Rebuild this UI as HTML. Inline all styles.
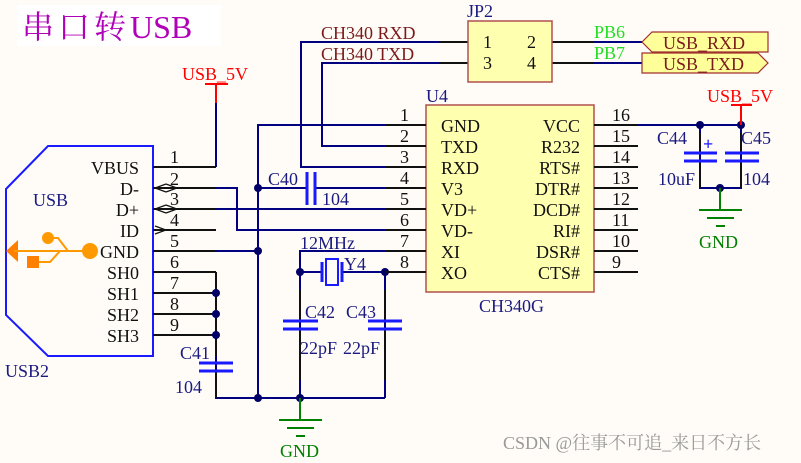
<!DOCTYPE html>
<html><head><meta charset="utf-8"><style>
html,body{margin:0;padding:0;background:#fffcf7;}
svg{display:block;}
text{font-family:"Liberation Serif","Noto Serif CJK SC",serif;}
</style></head><body>
<svg width="801" height="463" viewBox="0 0 801 463" xmlns="http://www.w3.org/2000/svg">
<rect width="801" height="463" fill="#fffcf7"/>
<rect x="17" y="5" width="204" height="41" fill="#ffffff"/>
<text x="22" y="38" font-size="32" fill="#b000b8" font-family="Liberation Serif,Noto Serif CJK SC,serif" letter-spacing="4">串口转<tspan letter-spacing="0">USB</tspan></text>

<polygon points="6,189 48,146 153,146 153,356 48,356 6,315" fill="none" stroke="#1a1aff" stroke-width="2"/>
<text x="33" y="206" font-size="18" fill="#1a1a80">USB</text>
<text x="5" y="377" font-size="18" fill="#1a1a80">USB2</text>
<g fill="#ff9900" stroke="#ff9900">
<polygon points="6,251 18,240 18,262" stroke="none" fill="#ff8000"/>
<line x1="14" y1="251" x2="90" y2="251" stroke-width="2"/>
<circle cx="90" cy="251" r="8" stroke="none"/>
<circle cx="48" cy="238" r="6" stroke="none"/>
<polyline points="48,238 58,238 68,251" fill="none" stroke-width="2"/>
<polyline points="38,262 50,262 60,251" fill="none" stroke-width="2"/>
<rect x="27" y="256" width="12" height="12" stroke="none" fill="#ff8000"/>
</g>
<g font-size="18" fill="#111" text-anchor="end">
<text x="139" y="174">VBUS</text><text x="139" y="195">D-</text><text x="139" y="216">D+</text>
<text x="139" y="237">ID</text><text x="139" y="258">GND</text><text x="139" y="279">SH0</text>
<text x="139" y="300">SH1</text><text x="139" y="321">SH2</text><text x="139" y="342">SH3</text>
</g>
<g stroke="#111" stroke-width="2">
<line x1="153" y1="167" x2="216" y2="167"/><line x1="153" y1="188" x2="216" y2="188"/>
<line x1="153" y1="209" x2="216" y2="209"/><line x1="153" y1="230" x2="216" y2="230"/>
<line x1="153" y1="251" x2="216" y2="251"/><line x1="153" y1="272" x2="216" y2="272"/>
<line x1="153" y1="293" x2="216" y2="293"/><line x1="153" y1="314" x2="216" y2="314"/>
<line x1="153" y1="335" x2="216" y2="335"/>
</g>
<g fill="none" stroke="#111" stroke-width="1.2">
<polyline points="166,184 155,188 166,192"/><polyline points="166,184 177,188 166,192"/>
<polyline points="166,205 155,209 166,213"/><polyline points="166,205 177,209 166,213"/>
<polyline points="155,226 166,230 155,234"/>
</g>
<g font-size="18" fill="#111">
<text x="170" y="163">1</text><text x="170" y="185">2</text><text x="170" y="205">3</text>
<text x="170" y="226">4</text><text x="170" y="247">5</text><text x="170" y="268">6</text>
<text x="170" y="289">7</text><text x="170" y="310">8</text><text x="170" y="331">9</text>
</g>

<g stroke="#000080" stroke-width="2" fill="none">
<polyline points="216,167 216,103"/>
<polyline points="216,188 237,188 237,230 385,230"/>
<line x1="216" y1="209" x2="385" y2="209"/>
<line x1="216" y1="251" x2="258" y2="251"/>
<polyline points="385,125 258,125 258,398"/>
<line x1="258" y1="188" x2="307" y2="188"/>
<line x1="315" y1="188" x2="385" y2="188"/>
<polyline points="385,146 322,146 322,63 470,63"/>
<polyline points="385,167 301,167 301,42 470,42"/>
<polyline points="385,251 300,251 300,398"/>
<line x1="300" y1="272" x2="322" y2="272"/>
<line x1="342" y1="272" x2="385" y2="272"/>
<line x1="385" y1="272" x2="385" y2="398"/>
<polyline points="216,272 216,398 385,398"/>
<line x1="594" y1="42" x2="642" y2="42"/><line x1="594" y1="63" x2="642" y2="63"/>
<line x1="638" y1="125" x2="741" y2="125"/>
<polyline points="700,125 700,188 741,188 741,125"/>
</g>
<g stroke="#111" stroke-width="2">
<line x1="216" y1="272" x2="216" y2="356"/><line x1="216" y1="371" x2="216" y2="398"/>
<line x1="300" y1="290" x2="300" y2="321"/><line x1="300" y1="329" x2="300" y2="380"/>
<line x1="385" y1="290" x2="385" y2="321"/><line x1="385" y1="329" x2="385" y2="380"/>
<line x1="700" y1="133" x2="700" y2="153"/><line x1="700" y1="161" x2="700" y2="188"/>
<line x1="741" y1="133" x2="741" y2="153"/><line x1="741" y1="161" x2="741" y2="188"/>
<line x1="552" y1="42" x2="594" y2="42"/><line x1="552" y1="63" x2="594" y2="63"/>
<line x1="440" y1="42" x2="470" y2="42"/><line x1="440" y1="63" x2="470" y2="63"/>
</g>
<g stroke="#1a1aff" stroke-width="3">
<line x1="307" y1="172" x2="307" y2="205"/><line x1="315" y1="172" x2="315" y2="205"/>
<line x1="199" y1="363" x2="233" y2="363"/><line x1="199" y1="371" x2="233" y2="371"/>
<line x1="283" y1="321" x2="318" y2="321"/><line x1="283" y1="329" x2="318" y2="329"/>
<line x1="368" y1="321" x2="402" y2="321"/><line x1="368" y1="329" x2="402" y2="329"/>
<line x1="684" y1="153" x2="717" y2="153"/><line x1="684" y1="161" x2="717" y2="161"/>
<line x1="725" y1="153" x2="759" y2="153"/><line x1="725" y1="161" x2="759" y2="161"/>
<line x1="322" y1="262" x2="322" y2="282"/><line x1="342" y1="262" x2="342" y2="282"/>
</g>
<rect x="326" y="259" width="12" height="26" fill="none" stroke="#1a1aff" stroke-width="2"/>
<text x="703" y="150" font-size="18" fill="#1a1aff" font-weight="bold">+</text>
<g fill="#000066">
<circle cx="258" cy="188" r="4"/><circle cx="258" cy="251" r="4"/><circle cx="258" cy="398" r="4"/>
<circle cx="300" cy="398" r="4"/><circle cx="300" cy="272" r="4"/><circle cx="385" cy="272" r="4"/>
<circle cx="216" cy="293" r="4"/><circle cx="216" cy="314" r="4"/><circle cx="216" cy="335" r="4"/>
<circle cx="700" cy="125" r="4"/><circle cx="741" cy="125" r="4"/><circle cx="720" cy="188" r="4"/>
</g>
<g stroke="#ff0000" stroke-width="2">
<line x1="216" y1="103" x2="216" y2="85"/><line x1="205" y1="84" x2="228" y2="84"/>
<line x1="741" y1="125" x2="741" y2="106"/><line x1="731" y1="105" x2="752" y2="105"/>
</g>
<text x="182" y="80" font-size="18" fill="#ff0000">USB_5V</text>
<text x="707" y="102" font-size="18" fill="#ff0000">USB_5V</text>
<g stroke="#008000" stroke-width="2">
<line x1="720" y1="188" x2="720" y2="210"/><line x1="699" y1="210" x2="742" y2="210"/>
<line x1="707" y1="218" x2="734" y2="218"/><line x1="716" y1="226" x2="725" y2="226"/>
<line x1="300" y1="398" x2="300" y2="420"/><line x1="279" y1="420" x2="322" y2="420"/>
<line x1="287" y1="428" x2="314" y2="428"/><line x1="296" y1="436" x2="305" y2="436"/>
</g>
<text x="699" y="248" font-size="18" fill="#008000">GND</text>
<text x="280" y="457" font-size="18" fill="#008000">GND</text>

<rect x="468" y="21" width="84" height="61" fill="#ffffb0" stroke="#b05050" stroke-width="1.5"/>
<text x="467" y="17" font-size="18" fill="#1a1a80">JP2</text>
<g font-size="18" fill="#111"><text x="483" y="48">1</text><text x="483" y="69">3</text><text x="527" y="48">2</text><text x="527" y="69">4</text></g>
<text x="594" y="38" font-size="18" fill="#22dd22">PB6</text>
<text x="594" y="59" font-size="18" fill="#22dd22">PB7</text>
<polygon points="642,42 652,32 768,32 768,52 652,52" fill="#ffff99" stroke="#a03030" stroke-width="1.2"/>
<polygon points="642,53 758,53 768,63 758,73 642,73" fill="#ffff99" stroke="#a03030" stroke-width="1.2"/>
<text x="663" y="49" font-size="18" fill="#7a1a1a">USB_RXD</text>
<text x="663" y="70" font-size="18" fill="#7a1a1a">USB_TXD</text>
<text x="321" y="39" font-size="18" fill="#7a1a1a">CH340  RXD</text>
<text x="321" y="60" font-size="18" fill="#7a1a1a">CH340  TXD</text>

<rect x="426" y="105" width="168" height="187" fill="#ffffb0" stroke="#b05050" stroke-width="1.5"/>
<text x="426" y="102" font-size="18" fill="#1a1a80">U4</text>
<text x="479" y="312" font-size="18" fill="#1a1a80">CH340G</text>
<g stroke="#111" stroke-width="2">
<line x1="385" y1="125" x2="426" y2="125"/><line x1="385" y1="146" x2="426" y2="146"/><line x1="385" y1="167" x2="426" y2="167"/><line x1="385" y1="188" x2="426" y2="188"/><line x1="385" y1="209" x2="426" y2="209"/><line x1="385" y1="230" x2="426" y2="230"/><line x1="385" y1="251" x2="426" y2="251"/><line x1="385" y1="272" x2="426" y2="272"/>
<line x1="594" y1="125" x2="638" y2="125"/><line x1="594" y1="146" x2="638" y2="146"/><line x1="594" y1="167" x2="638" y2="167"/><line x1="594" y1="188" x2="638" y2="188"/><line x1="594" y1="209" x2="638" y2="209"/><line x1="594" y1="230" x2="638" y2="230"/><line x1="594" y1="251" x2="638" y2="251"/><line x1="594" y1="272" x2="638" y2="272"/>
</g>
<g font-size="18" fill="#111">
<text x="400" y="121">1</text><text x="400" y="142">2</text><text x="400" y="163">3</text><text x="400" y="184">4</text><text x="400" y="205">5</text><text x="400" y="226">6</text><text x="400" y="247">7</text><text x="400" y="268">8</text>
<text x="612" y="121">16</text><text x="612" y="142">15</text><text x="612" y="163">14</text><text x="612" y="184">13</text><text x="612" y="205">12</text><text x="612" y="226">11</text><text x="612" y="247">10</text><text x="612" y="268">9</text>
</g>
<g font-size="18" fill="#111">
<text x="441" y="132">GND</text><text x="441" y="153">TXD</text><text x="441" y="174">RXD</text><text x="441" y="195">V3</text><text x="441" y="216">VD+</text><text x="441" y="237">VD-</text><text x="441" y="258">XI</text><text x="441" y="279">XO</text>
</g>
<g font-size="18" fill="#111" text-anchor="end">
<text x="580" y="132">VCC</text><text x="580" y="153">R232</text><text x="580" y="174">RTS#</text><text x="580" y="195">DTR#</text><text x="580" y="216">DCD#</text><text x="580" y="237">RI#</text><text x="580" y="258">DSR#</text><text x="580" y="279">CTS#</text>
</g>
<g font-size="18" fill="#1a1a80">
<text x="268" y="185">C40</text><text x="322" y="205">104</text>
<text x="300" y="249">12MHz</text><text x="344" y="270">Y4</text>
<text x="305" y="318">C42</text><text x="346" y="318">C43</text>
<text x="300" y="354">22pF</text><text x="343" y="354">22pF</text>
<text x="180" y="359">C41</text><text x="175" y="393">104</text>
<text x="657" y="144">C44</text><text x="741" y="144">C45</text>
<text x="658" y="185">10uF</text><text x="743" y="185">104</text>
</g>
<text x="503" y="449" font-size="18" fill="#999" font-family="Liberation Sans,Noto Sans CJK SC,sans-serif">CSDN @往事不可追_来日不方长</text>
</svg>
</body></html>
